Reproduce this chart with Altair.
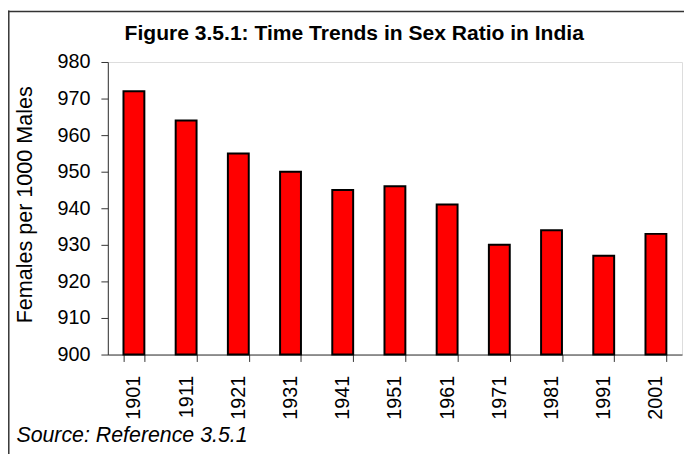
import altair as alt
import pandas as pd

years = ["1901", "1911", "1921", "1931", "1941", "1951", "1961", "1971", "1981", "1991", "2001"]
sex_ratio = [972, 964, 955, 950, 945, 946, 941, 930, 934, 927, 933]
y_ticks = [900, 910, 920, 930, 940, 950, 960, 970, 980]
y_base = 900

df = pd.DataFrame({"Year": years, "Ratio": sex_ratio})
FONT = "Liberation Sans"

bars = alt.Chart(df).mark_bar(
    fill="#FF0000", stroke="#000000", strokeWidth=2
).encode(
    x=alt.X(
        "Year:N",
        sort=years,
        scale=alt.Scale(paddingInner=0.6, paddingOuter=0.3),
        axis=alt.Axis(
            title="Source: Reference 3.5.1",
            titleFont=FONT, titleFontSize=21.6, titleFontStyle="italic",
            titleFontWeight="normal", titleColor="#000000",
            titleAnchor="start", titleAlign="left", titleBaseline="alphabetic",
            titleX=-93, titleY=88,
            labelAngle=270, labelAlign="right", labelBaseline="middle",
            labelFont=FONT, labelFontSize=20, labelColor="#000000",
            labelPadding=14, tickSize=7, tickBand="extent",
            tickColor="#333333", domainColor="#333333", grid=False,
        ),
    ),
    y=alt.Y(
        "Ratio:Q",
        scale=alt.Scale(domain=[900, 980], zero=False, nice=False),
        axis=alt.Axis(
            values=y_ticks,
            title="Females per 1000 Males",
            titleFont=FONT, titleFontSize=21.8, titleFontWeight="normal",
            titleColor="#000000", titleAlign="center", titleBaseline="alphabetic",
            titleX=-77, titleY=144,
            labelAlign="right", labelBaseline="middle",
            labelFont=FONT, labelFontSize=20, labelColor="#000000",
            labelPadding=11, tickSize=7,
            tickColor="#333333", domainColor="#333333", grid=False,
        ),
    ),
    y2=alt.datum(y_base),
)

one = pd.DataFrame({"a": [0]})
frame_left = alt.Chart(one).mark_rule(color="#333333", strokeWidth=1.5).encode(
    x=alt.value(-100.2), y=alt.value(-52), y2=alt.value(420)
)
frame_top = alt.Chart(one).mark_rule(color="#333333", strokeWidth=1.5).encode(
    x=alt.value(-101), x2=alt.value(700), y=alt.value(-51.2)
)

chart = alt.layer(bars, frame_left, frame_top).properties(
    width=581,
    height=296,
    title=alt.TitleParams(
        "Figure 3.5.1: Time Trends in Sex Ratio in India",
        font=FONT, fontSize=21.3, fontWeight="bold", color="#000000",
        anchor="start", frame="group", baseline="alphabetic",
        offset=0, dx=17, dy=52,
    ),
    autosize=alt.AutoSizeParams(type="none"),
    padding={"left": 101, "top": 52, "right": 2, "bottom": 98},
).configure_view(stroke=None).configure(background="#FFFFFF")

chart.save("out.html", embed_options={"renderer": "svg", "actions": False})
